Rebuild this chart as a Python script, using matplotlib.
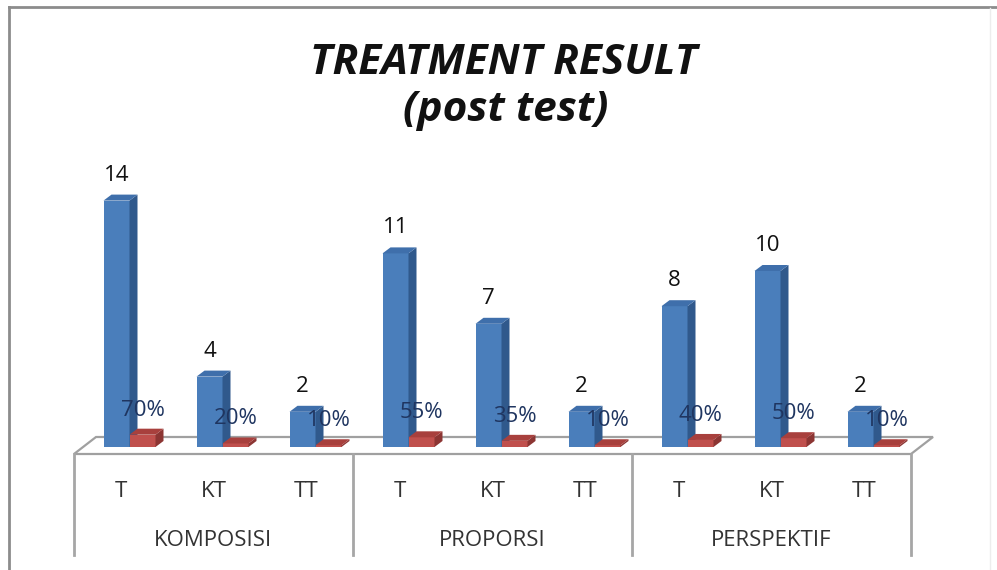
import matplotlib.pyplot as plt
from matplotlib.patches import Polygon
from matplotlib.lines import Line2D

plt.rcParams['font.family'] = ['Open Sans', 'DejaVu Sans']

groups = ['KOMPOSISI', 'PROPORSI', 'PERSPEKTIF']
levels = ['T', 'KT', 'TT']
counts = [14, 4, 2, 11, 7, 2, 8, 10, 2]
shares = [0.70, 0.20, 0.10, 0.55, 0.35, 0.10, 0.40, 0.50, 0.10]

W, H = 997, 570
fig = plt.figure(figsize=(W / 100, H / 100), dpi=100)

# plot area: 9 categories across, value 0 sits on the front edge of the floor
px_x = 93.0   # pixels per category
px_y = 17.6   # pixels per count
floor_y = 454
y_top = 15
ax = fig.add_axes([74 / W, (H - floor_y) / H, 9 * px_x / W, y_top * px_y / H])
ax.set_xlim(0, 9)
ax.set_ylim(0, y_top)
ax.axis('off')


def ux(p):
    return p / px_x


def uy(p):
    return p / px_y


def row(p):
    # vertical pixel position -> value units
    return (floor_y - p) / px_y


# 3d floor
fdx, fdy = ux(22), uy(17)
floor = Polygon([(0, 0), (9, 0), (9 + fdx, fdy), (fdx, fdy)], closed=True,
                facecolor='white', edgecolor='#a0a0a0', lw=1.6, zorder=1, clip_on=False)
ax.add_patch(floor)

base = uy(7)
shift = ux(9)
bw = ux(26)
bdx, bdy = ux(8), uy(6)


def bar3d(x0, h, front, side, top, z):
    ax.bar(x0, h, bw, bottom=base, align='edge', color=front, lw=0,
           clip_on=False, zorder=z)
    ax.add_patch(Polygon([(x0 + bw, base), (x0 + bw + bdx, base + bdy),
                          (x0 + bw + bdx, base + h + bdy), (x0 + bw, base + h)],
                         closed=True, facecolor=side, lw=0, zorder=z, clip_on=False))
    ax.add_patch(Polygon([(x0, base + h), (x0 + bw, base + h),
                          (x0 + bw + bdx, base + h + bdy), (x0 + bdx, base + h + bdy)],
                         closed=True, facecolor=top, lw=0, zorder=z, clip_on=False))


for i, (c, s) in enumerate(zip(counts, shares)):
    mid = i + 0.5 + shift
    bar3d(mid - bw, c, '#4a7ebb', '#30598c', '#3f6fab', 2 + i * 2)
    bar3d(mid, s, '#c0504d', '#8c3533', '#a8403d', 3 + i * 2)
    ax.text(mid - bw / 2, base + c + uy(20), str(c), ha='center', va='baseline',
            fontsize=16, color='#111111', zorder=50)
    ax.text(mid + bw / 2, base + s + uy(19), f'{round(s * 100)}%', ha='center',
            va='baseline', fontsize=16, color='#1f3560', zorder=50)

# category axis: level labels, group labels and dividers
for i in range(9):
    ax.text(i + 0.5, row(497), levels[i % 3], ha='center', va='baseline',
            fontsize=16, color='#333333', zorder=50)
for g, name in enumerate(groups):
    ax.text(g * 3 + 1.5, row(546), name, ha='center', va='baseline',
            fontsize=16, color='#333333', zorder=50)
for xv in [0, 3, 6, 9]:
    ax.plot([xv, xv], [0, row(555)], color='#a6a6a6', lw=2, clip_on=False, zorder=1)

fig.text(504 / W, 1 - 74 / H, 'TREATMENT RESULT', ha='center', va='baseline',
         fontsize=30.5, fontweight='bold', fontstyle='italic', color='#111111')
fig.text(506 / W, 1 - 121 / H, '(post test)', ha='center', va='baseline',
         fontsize=30.5, fontweight='bold', fontstyle='italic', color='#111111')

# chart frame
fig.add_artist(Line2D([9 / W, 9 / W], [0, 1 - 7 / H], color='#8c8c8c', lw=2))
fig.add_artist(Line2D([9 / W, 1], [1 - 7 / H, 1 - 7 / H], color='#8c8c8c', lw=2))
fig.add_artist(Line2D([990 / W, 990 / W], [0, 1 - 8 / H], color='#ededed', lw=1))

fig.savefig('out.png', dpi=100)
